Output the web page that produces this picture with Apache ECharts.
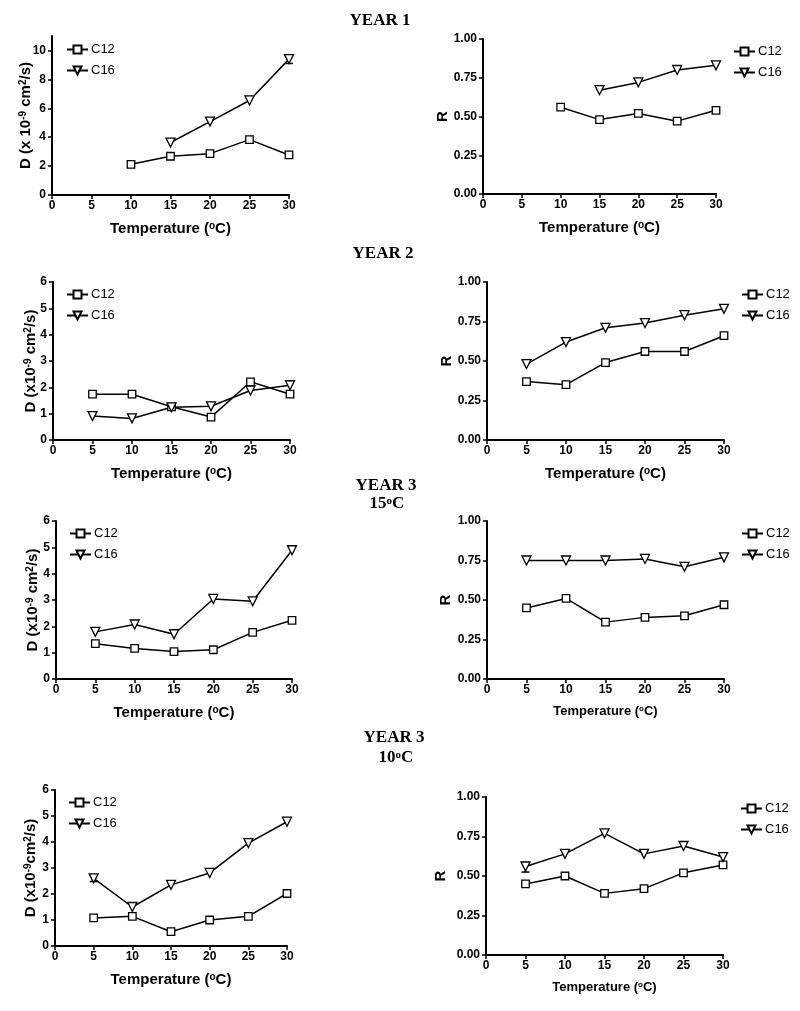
<!DOCTYPE html>
<html><head><meta charset="utf-8">
<script src="https://cdn.jsdelivr.net/npm/echarts@6/dist/echarts.min.js"></script>
<style>html,body{margin:0;padding:0;background:#fff}#c{width:800px;height:1011px}</style>
</head><body><div id="c"></div>
<script>
// ---- data ----
const temps = [5, 10, 15, 20, 25, 30];
const xTicks = [0, 5, 10, 15, 20, 25, 30];
const dTicksY1 = [0, 2, 4, 6, 8, 10];
const dTicks = [0, 1, 2, 3, 4, 5, 6];
const rTicks = [0, 0.25, 0.5, 0.75, 1];
const seriesNames = ['C12', 'C16'];

const y1_D_C12 = [null, 2.12, 2.68, 2.86, 3.83, 2.77];
const y1_D_C16 = [null, null, 3.63, 5.08, 6.54, 9.40];
const y1_R_C12 = [null, 0.56, 0.48, 0.52, 0.47, 0.54];
const y1_R_C16 = [null, null, 0.67, 0.72, 0.80, 0.83];
const y2_D_C12 = [1.74, 1.74, 1.26, 0.87, 2.21, 1.74];
const y2_D_C16 = [0.91, 0.82, 1.24, 1.28, 1.88, 2.08];
const y2_R_C12 = [0.37, 0.35, 0.49, 0.56, 0.56, 0.66];
const y2_R_C16 = [0.48, 0.62, 0.71, 0.74, 0.79, 0.83];
const y3a_D_C12 = [1.34, 1.16, 1.04, 1.11, 1.77, 2.23];
const y3a_D_C16 = [1.79, 2.07, 1.70, 3.04, 2.95, 4.89];
const y3a_R_C12 = [0.45, 0.51, 0.36, 0.39, 0.40, 0.47];
const y3a_R_C16 = [0.75, 0.75, 0.75, 0.76, 0.71, 0.77];
const y3b_D_C12 = [1.08, 1.14, 0.55, 1.00, 1.14, 2.02];
const y3b_D_C16 = [2.60, 1.50, 2.35, 2.81, 3.96, 4.78];
const y3b_R_C12 = [0.45, 0.50, 0.39, 0.42, 0.52, 0.57];
const y3b_R_C16 = [0.56, 0.64, 0.77, 0.64, 0.69, 0.62];

// error bars: [temperature, low, high]
const err_y1_D_C16 = [[30, 9.1, 9.6]];
const err_y3b_D_C16 = [[5, 2.48, 2.72]];
const err_y3b_R_C16 = [[5, 0.525, 0.58]];

const dNameY1 = 'D (x 10{s|-9} cm{s|2}/s)';
const dName2 = 'D (x10{s|-9} cm{s|2}/s)';
const dName3 = 'D (x10{s|-9}cm{s|2}/s)';
const xName = 'Temperature ({s|o}C)';

// ---- layout ----
const panels = [
  {grid:{left:52,top:36,width:237,height:159}, ymax:11, ticks:dTicksY1, c12:y1_D_C12, c16:y1_D_C16, err:err_y1_D_C16, yName:dNameY1, yGap:19, leg:{left:66,top:43}, xSize:15, r:false},
  {grid:{left:483,top:39,width:233,height:155}, ymax:1, ticks:rTicks, c12:y1_R_C12, c16:y1_R_C16, err:null, yName:'R', yGap:33, leg:{left:733,top:45}, xSize:15, r:true},
  {grid:{left:53,top:282,width:237,height:158}, ymax:6, ticks:dTicks, c12:y2_D_C12, c16:y2_D_C16, err:null, yName:dName2, yGap:15, leg:{left:66,top:288}, xSize:15, r:false},
  {grid:{left:487,top:282,width:237,height:158}, ymax:1, ticks:rTicks, c12:y2_R_C12, c16:y2_R_C16, err:null, yName:'R', yGap:33, leg:{left:741,top:288}, xSize:15, r:true},
  {grid:{left:56,top:521,width:236,height:158}, ymax:6, ticks:dTicks, c12:y3a_D_C12, c16:y3a_D_C16, err:null, yName:dName2, yGap:16, leg:{left:69,top:527}, xSize:15, r:false},
  {grid:{left:487,top:521,width:237,height:158}, ymax:1, ticks:rTicks, c12:y3a_R_C12, c16:y3a_R_C16, err:null, yName:'R', yGap:34, leg:{left:741,top:527}, xSize:13, r:true},
  {grid:{left:55,top:790,width:232,height:156}, ymax:6, ticks:dTicks, c12:y3b_D_C12, c16:y3b_D_C16, err:err_y3b_D_C16, yName:dName3, yGap:17, leg:{left:68,top:796}, xSize:15, r:false},
  {grid:{left:486,top:797,width:237,height:158}, ymax:1, ticks:rTicks, c12:y3b_R_C12, c16:y3b_R_C16, err:err_y3b_R_C16, yName:'R', yGap:38, leg:{left:740,top:802}, xSize:13, r:true}
];

const FONT = '"Liberation Sans", Arial, sans-serif';
const SERIF = '"Liberation Serif", "Times New Roman", serif';

const option = {
  animation: false,
  backgroundColor: '#fff',
  grid: [], xAxis: [], yAxis: [], series: [], legend: [],
  graphic: [
    {type:'text', style:{x:380, y:21, text:'YEAR 1', font:'bold 17px ' + SERIF, fill:'#000', align:'center', verticalAlign:'middle'}},
    {type:'text', style:{x:383, y:254, text:'YEAR 2', font:'bold 17px ' + SERIF, fill:'#000', align:'center', verticalAlign:'middle'}},
    {type:'text', style:{x:386, y:486, text:'YEAR 3', font:'bold 17px ' + SERIF, fill:'#000', align:'center', verticalAlign:'middle'}},
    {type:'text', style:{x:387, y:504, text:'15{s|o}C', fontFamily:SERIF, fontWeight:'bold', fontSize:17, fill:'#000', align:'center', verticalAlign:'middle', rich:{s:{fontFamily:SERIF, fontWeight:'bold', fontSize:11, verticalAlign:'top', fill:'#000'}}}},
    {type:'text', style:{x:394, y:738, text:'YEAR 3', font:'bold 17px ' + SERIF, fill:'#000', align:'center', verticalAlign:'middle'}},
    {type:'text', style:{x:396, y:758, text:'10{s|o}C', fontFamily:SERIF, fontWeight:'bold', fontSize:17, fill:'#000', align:'center', verticalAlign:'middle', rich:{s:{fontFamily:SERIF, fontWeight:'bold', fontSize:11, verticalAlign:'top', fill:'#000'}}}}
  ]
};

const symStyle = {color:'#fff', borderColor:'#000', borderWidth:1.3};

panels.forEach((p, i) => {
  option.grid.push(Object.assign({containLabel:false}, p.grid));
  option.xAxis.push({
    type:'value', gridIndex:i, min:0, max:30, interval:5,
    name:xName, nameLocation:'middle', nameGap:26, nameMoveOverlap:false,
    nameTextStyle:{fontFamily:FONT, fontWeight:'bold', fontSize:p.xSize, color:'#000',
      rich:{s:{fontFamily:FONT, fontWeight:'bold', fontSize:Math.round(p.xSize*0.65), verticalAlign:'top', color:'#000'}}},
    splitLine:{show:false},
    axisLine:{lineStyle:{color:'#000', width:2}},
    axisTick:{length:4, lineStyle:{color:'#000', width:1.5}, customValues:xTicks},
    axisLabel:{fontFamily:FONT, fontWeight:'bold', fontSize:12, color:'#000', margin:5, customValues:xTicks}
  });
  option.yAxis.push({
    type:'value', gridIndex:i, min:0, max:p.ymax,
    name:p.yName, nameLocation:'middle', nameGap:p.yGap, nameMoveOverlap:false,
    nameTextStyle:{fontFamily:FONT, fontWeight:'bold', fontSize:15, color:'#000',
      rich:{s:{fontFamily:FONT, fontWeight:'bold', fontSize:10, verticalAlign:'top', color:'#000'}}},
    splitLine:{show:false},
    axisLine:{show:true, lineStyle:{color:'#000', width:2}},
    axisTick:{show:true, length:4, lineStyle:{color:'#000', width:1.5}, customValues:p.ticks},
    axisLabel:{fontFamily:FONT, fontWeight:'bold', fontSize:12, color:'#000', margin:6, customValues:p.ticks,
      formatter: v => p.r ? v.toFixed(2) : String(v)}
  });
  [[p.c12, 'rect', 7.5, 0], [p.c16, 'triangle', 9, 180]].forEach((s, k) => {
    option.series.push({
      type:'line', name:seriesNames[k], xAxisIndex:i, yAxisIndex:i,
      data: temps.map((t, j) => [t, s[0][j]]),
      symbol:s[1], symbolSize:s[2], symbolRotate:s[3], showSymbol:true,
      lineStyle:{color:'#000', width:1.5}, itemStyle:symStyle, z:3
    });
  });
  if (p.err) {
    option.series.push({
      type:'custom', name:'err' + i, xAxisIndex:i, yAxisIndex:i, z:2,
      data:p.err,
      renderItem:(params, api) => {
        const lo = api.coord([api.value(0), api.value(1)]);
        const hi = api.coord([api.value(0), api.value(2)]);
        const w = 4;
        return {type:'group', children:[
          {type:'line', shape:{x1:lo[0], y1:lo[1], x2:hi[0], y2:hi[1]}, style:{stroke:'#000', lineWidth:1.5}},
          {type:'line', shape:{x1:lo[0]-w, y1:lo[1], x2:lo[0]+w, y2:lo[1]}, style:{stroke:'#000', lineWidth:1.5}},
          {type:'line', shape:{x1:hi[0]-w, y1:hi[1], x2:hi[0]+w, y2:hi[1]}, style:{stroke:'#000', lineWidth:1.5}}
        ]};
      }
    });
  }
  option.legend.push({
    data:seriesNames, orient:'vertical', left:p.leg.left, top:p.leg.top, padding:0,
    itemWidth:21, itemHeight:10, itemGap:8, selectedMode:false,
    textStyle:{fontFamily:FONT, fontSize:13, color:'#000', padding:[0,0,0,-2]}
  });
});

const chart = echarts.init(document.getElementById('c'), null, {renderer:'canvas'});
chart.setOption(option);
</script>
</body></html>
